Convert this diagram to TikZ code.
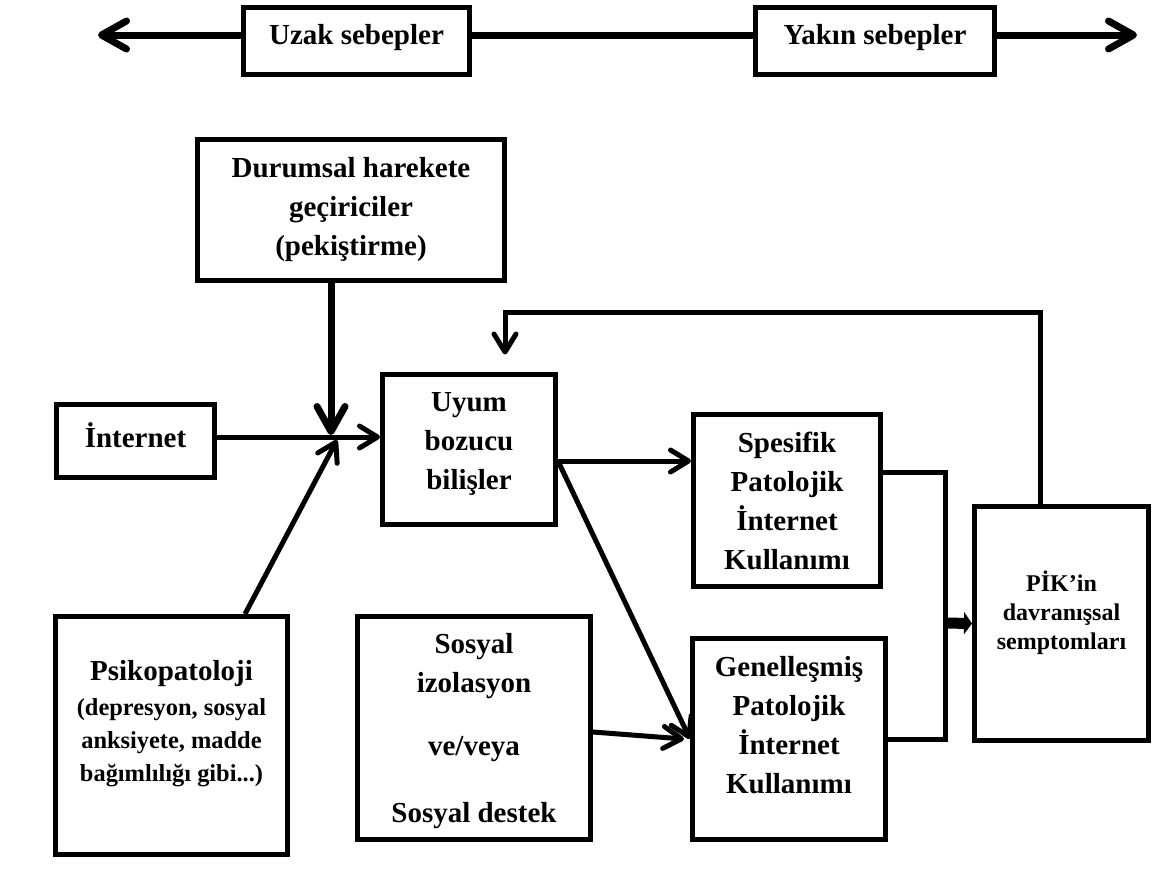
\documentclass[tikz,border=0pt]{standalone}
\usepackage{fontspec}
\setmainfont{Liberation Serif}
\usetikzlibrary{arrows.meta}
\tikzset{
  font={\fontsize{14.5pt}{19.5pt}\selectfont\bfseries},
  kutu/.style={draw, line width=2.5pt, align=center, inner sep=0pt},
  ustkutu/.style={kutu, font={\fontsize{14.5pt}{16pt}\selectfont\bfseries}, minimum height=33.5pt, text depth=7pt},
  cizgi/.style={line width=2.5pt},
  ok/.style={line width=2.5pt, -{Straight Barb[length=9pt,width=11pt,line cap=round,line join=round]}},
  kalinok/.style={line width=3.5pt, -{Straight Barb[length=12.5pt,width=14pt,line cap=round,line join=round]}},
  kisaok/.style={line width=5.5pt, -{Triangle[length=4pt,width=11pt]}}}

\begin{document}
\begin{tikzpicture}[x=0.5pt,y=-0.5pt]
\useasboundingbox (0,0) rectangle (1155,891);
\coordinate (solok)  at (98,35);
\coordinate (sagok)  at (1137,35);
\coordinate (kavsak) at (331,437);
\coordinate (birles) at (945,623);
\coordinate (donus)  at (1040,312);
\node[ustkutu,minimum width=113pt]   (uzak)  at (356.5,41) {Uzak sebepler};
\node[ustkutu,minimum width=119.5pt] (yakin) at (875,41)   {Yakın sebepler};
\node[kutu,minimum width=153.5pt,minimum height=70.5pt] (durumsal) at (351,210)
  {Durumsal harekete\\geçiriciler\\(pekiştirme)};
\node[kutu,minimum width=79pt,minimum height=36.5pt,text depth=6pt] (internet) at (135.5,441) {İnternet};
\node[kutu,minimum width=86.5pt,minimum height=75pt,text depth=9pt] (uyum) at (469,449.5)
  {Uyum\\bozucu\\bilişler};
\node[kutu,minimum width=116pt,minimum height=119pt,text depth=14.5pt,
  font={\fontsize{12.2pt}{16.5pt}\selectfont\bfseries}] (psiko) at (171.5,735.5)
  {{\fontsize{14.5pt}{17pt}\selectfont Psikopatoloji}\\[1pt](depresyon, sosyal\\anksiyete, madde\\bağımlılığı gibi...)};
\node[kutu,minimum width=116.5pt,minimum height=111.5pt,text depth=0pt] (sosyal) at (474,728)
  {Sosyal\\izolasyon\\[12pt]ve/veya\\[14pt]Sosyal destek};
\node[kutu,minimum width=93.5pt,minimum height=86pt] (spesifik) at (787,500.5)
  {Spesifik\\Patolojik\\İnternet\\Kullanımı};
\node[kutu,minimum width=96.5pt,minimum height=100.5pt,text depth=14pt] (genel) at (789,739)
  {Genelleşmiş\\Patolojik\\İnternet\\Kullanımı};
\node[kutu,minimum width=87pt,minimum height=117pt,text depth=13.5pt,
  font={\fontsize{12pt}{14.5pt}\selectfont\bfseries}] (pik) at (1061.5,623.5)
  {PİK’in\\davranışsal\\semptomları};
\draw[kalinok] (uzak.west |- solok) -- (solok);
\draw[line width=3.5pt] (uzak.east |- solok) -- (yakin.west |- solok);
\draw[kalinok] (yakin.east |- sagok) -- (sagok);
\draw[kalinok] (durumsal.south -| kavsak) -- ([yshift=1pt]kavsak);
\draw[ok] (internet.east |- kavsak) -- (uyum.west |- kavsak);
\draw[ok] ([xshift=36.75pt]psiko.north) -- ([shift={(6,3)}]kavsak);
\draw[ok] ([yshift=-5.75pt]uyum.east) coordinate (uyumsag) -- (spesifik.west |- uyumsag);
\draw[ok] (uyumsag) -- (genel.west);
\draw[ok] ([yshift=-2pt]sosyal.east) -- ([xshift=-3pt]genel.west);
\draw[cizgi] ([yshift=14.25pt]spesifik.east) -| (birles |- genel.east) -- (genel.east);
\draw[kisaok] (birles) -- (pik.west);
\draw[ok] (pik.north -| donus) -- (donus) -| ([xshift=18pt,yshift=8.75pt]uyum.north);
\end{tikzpicture}
\end{document}
